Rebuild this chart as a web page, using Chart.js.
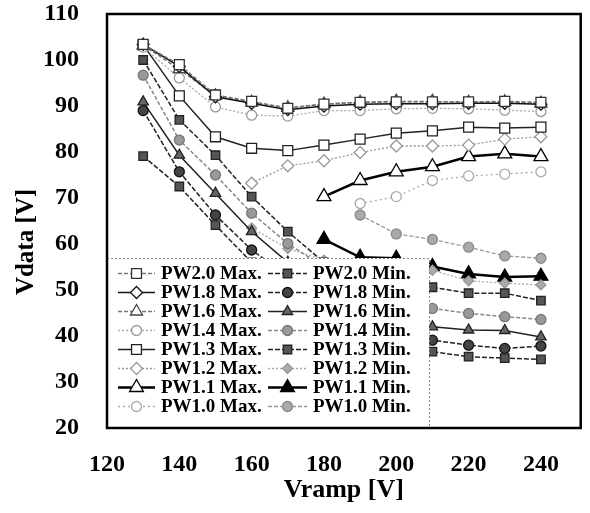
<!DOCTYPE html>
<html>
<head>
<meta charset="utf-8">
<script src="https://cdn.jsdelivr.net/npm/chart.js@4.4.0/dist/chart.umd.min.js"></script>
<style>
  html, body { margin: 0; padding: 0; background: #fff; }
  canvas { display: block; }
</style>
</head>
<body>
<canvas id="chart" width="590" height="513"></canvas>
<script>
// Vramp steps (x) and axis ticks
const vramp = [130, 140, 150, 160, 170, 180, 190, 200, 210, 220, 230, 240];
const xTicks = [120, 140, 160, 180, 200, 220, 240];
const yTicks = [20, 30, 40, 50, 60, 70, 80, 90, 100, 110];

// Vdata max / min per pulse width (null = no point)
const pw20Max = [103.4, 99.0, 92.4, 91.0, 89.5, 90.4, 90.8, 90.9, 90.9, 90.9, 91.0, 90.8];
const pw18Max = [103.4, 98.6, 92.0, 90.6, 89.2, 90.0, 90.4, 90.5, 90.5, 90.6, 90.6, 90.4];
const pw16Max = [103.2, 98.0, 92.2, 90.8, 89.6, 90.4, 90.8, 91.0, 91.0, 90.8, 90.9, 90.6];
const pw14Max = [102.8, 96.1, 89.8, 88.0, 87.8, 89.0, 89.0, 89.4, 89.5, 89.4, 89.1, 88.8];
const pw13Max = [103.3, 92.2, 83.3, 80.8, 80.3, 81.5, 82.8, 84.1, 84.6, 85.4, 85.2, 85.4];
const pw12Max = [null, null, null, 73.2, 77.0, 78.1, 79.9, 81.3, 81.3, 81.5, 82.8, 83.3];
const pw11Max = [null, null, null, null, null, 70.3, 73.8, 75.7, 76.8, 79.0, 79.6, 79.0];
const pw10Max = [null, null, null, null, null, null, 68.8, 70.3, 73.8, 74.8, 75.2, 75.7];

const pw20Min = [79.1, 72.5, 64.1, 56.0, 50.0, 45.0, 41.0, 38.5, 36.6, 35.5, 35.2, 34.9];
const pw18Min = [89.0, 75.7, 66.3, 58.7, 53.0, 48.0, 45.0, 42.0, 39.1, 38.0, 37.3, 37.8];
const pw16Min = [90.9, 79.3, 71.0, 62.7, 56.0, 51.0, 47.5, 44.5, 42.0, 41.3, 41.2, 39.8];
const pw14Min = [96.7, 82.6, 75.0, 66.7, 60.1, 55.0, 51.5, 48.5, 46.0, 44.9, 44.2, 43.6];
const pw13Min = [100.0, 87.0, 79.3, 70.3, 62.7, 56.0, 54.0, 52.0, 50.6, 49.3, 49.3, 47.7];
const pw12Min = [null, null, null, 63.5, 59.0, 56.5, 55.5, 55.2, 54.3, 52.0, 51.5, 51.1];
const pw11Min = [null, null, null, null, null, 61.0, 57.1, 56.9, 55.1, 53.5, 52.8, 53.0];
const pw10Min = [null, null, null, null, null, null, 66.3, 62.2, 61.0, 59.3, 57.4, 56.9];

const serif = "'Liberation Serif', 'Times New Roman', serif";

function pts(values) {
  return vramp.map((x, i) => ({ x: x, y: values[i] })).filter(p => p.y !== null);
}

function series(label, values, line, dash, width, style, fill, edge, radius) {
  return {
    label: label,
    data: pts(values),
    borderColor: line,
    borderDash: dash,
    borderWidth: width,
    pointStyle: style,
    pointBackgroundColor: fill,
    pointBorderColor: edge,
    pointBorderWidth: 1.3,
    pointRadius: radius,
    tension: 0,
    fill: false
  };
}

const datasets = [
  series('PW2.0 Max.', pw20Max, '#777', [4, 2], 1.5, 'rect', '#fff', '#333', 7),
  series('PW1.8 Max.', pw18Max, '#111', [], 1.5, 'rectRot', '#fff', '#111', 6),
  series('PW1.6 Max.', pw16Max, '#777', [4, 2], 1.5, 'triangle', '#fff', '#444', 7),
  series('PW1.4 Max.', pw14Max, '#aaa', [2, 2], 1.3, 'circle', '#fff', '#999', 5),
  series('PW1.3 Max.', pw13Max, '#222', [], 1.5, 'rect', '#fff', '#222', 7),
  series('PW1.2 Max.', pw12Max, '#999', [2, 2], 1.3, 'rectRot', '#fff', '#999', 6),
  series('PW1.1 Max.', pw11Max, '#000', [], 2.5, 'triangle', '#fff', '#000', 8),
  series('PW1.0 Max.', pw10Max, '#aaa', [2, 3], 1.3, 'circle', '#fff', '#aaa', 5),
  series('PW2.0 Min.', pw20Min, '#222', [5, 2], 1.5, 'rect', '#555', '#222', 6),
  series('PW1.8 Min.', pw18Min, '#222', [5, 2], 1.5, 'circle', '#444', '#111', 5),
  series('PW1.6 Min.', pw16Min, '#222', [], 1.5, 'triangle', '#666', '#222', 6),
  series('PW1.4 Min.', pw14Min, '#888', [4, 2], 1.5, 'circle', '#999', '#777', 5),
  series('PW1.3 Min.', pw13Min, '#222', [5, 2], 1.5, 'rect', '#555', '#222', 6),
  series('PW1.2 Min.', pw12Min, '#aaa', [2, 2], 1.3, 'rectRot', '#aaa', '#999', 5),
  series('PW1.1 Min.', pw11Min, '#000', [], 2.5, 'triangle', '#000', '#000', 8),
  series('PW1.0 Min.', pw10Min, '#999', [4, 2], 1.3, 'circle', '#aaa', '#888', 5)
];

// legend box drawn inside the plot, over the lines
const boxLegend = {
  id: 'boxLegend',
  afterDatasetsDraw(chart) {
    const ctx = chart.ctx;
    const area = chart.chartArea;
    const top = 258, right = 429;
    ctx.save();
    ctx.fillStyle = '#fff';
    ctx.fillRect(area.left, top, right - area.left, area.bottom - top);
    ctx.strokeStyle = '#888';
    ctx.lineWidth = 1;
    ctx.setLineDash([2, 2]);
    ctx.beginPath();
    ctx.moveTo(area.left, top + 0.5);
    ctx.lineTo(right + 0.5, top + 0.5);
    ctx.lineTo(right + 0.5, area.bottom);
    ctx.stroke();

    const cols = [{ x0: 118, x1: 155, text: 161 }, { x0: 268, x1: 307, text: 313 }];
    ctx.font = 'bold 19px ' + serif;
    ctx.textBaseline = 'middle';
    ctx.textAlign = 'left';
    chart.data.datasets.forEach((ds, i) => {
      const c = cols[i < 8 ? 0 : 1];
      const y = 273.5 + (i % 8) * 19;
      const mid = (c.x0 + c.x1) / 2;
      ctx.setLineDash(ds.borderDash);
      ctx.strokeStyle = ds.borderColor;
      ctx.lineWidth = ds.borderWidth;
      ctx.beginPath();
      ctx.moveTo(c.x0, y);
      ctx.lineTo(c.x1, y);
      ctx.stroke();
      ctx.setLineDash([]);
      ctx.fillStyle = ds.pointBackgroundColor;
      ctx.strokeStyle = ds.pointBorderColor;
      ctx.lineWidth = ds.pointBorderWidth;
      Chart.helpers.drawPoint(ctx, {
        pointStyle: ds.pointStyle, radius: ds.pointRadius, rotation: 0, borderWidth: ds.pointBorderWidth
      }, mid, y);
      ctx.fillStyle = '#000';
      ctx.fillText(ds.label, c.text, y + 1);
    });
    ctx.restore();
  }
};

// plot frame and the y title (sits a little below the plot centre in the original)
const frame = {
  id: 'frame',
  afterDraw(chart) {
    const a = chart.chartArea;
    const ctx = chart.ctx;
    ctx.save();
    ctx.strokeStyle = '#000';
    ctx.lineWidth = 2.5;
    ctx.strokeRect(a.left, a.top, a.right - a.left, a.bottom - a.top);
    ctx.translate(27, 242);
    ctx.rotate(-Math.PI / 2);
    ctx.font = 'bold 25px ' + serif;
    ctx.fillStyle = '#000';
    ctx.textAlign = 'center';
    ctx.textBaseline = 'middle';
    ctx.fillText('Vdata [V]', 0, 0);
    ctx.restore();
  }
};

new Chart(document.getElementById('chart'), {
  type: 'line',
  data: { datasets: datasets },
  plugins: [boxLegend, frame],
  options: {
    responsive: false,
    animation: false,
    layout: { padding: { top: 14, right: 3, left: 0, bottom: 0 } },
    plugins: { legend: { display: false }, tooltip: { enabled: false } },
    scales: {
      x: {
        type: 'linear',
        min: 120,
        max: 251,
        afterBuildTicks: s => { s.ticks = xTicks.map(v => ({ value: v })); },
        afterFit: s => { s.height = 85; s.paddingLeft = 0; s.paddingRight = 0; },
        grid: { display: false, drawTicks: false },
        border: { display: false },
        ticks: { color: '#000', padding: 22, maxRotation: 0, font: { family: serif, size: 24, weight: 'bold' } },
        title: { display: true, text: 'Vramp [V]', color: '#000', padding: { top: 0, bottom: 7 },
          font: { family: serif, size: 26, weight: 'bold' } }
      },
      y: {
        min: 20,
        max: 110,
        afterBuildTicks: s => { s.ticks = yTicks.map(v => ({ value: v })); },
        afterFit: s => { s.width = 107; s.paddingTop = 0; s.paddingBottom = 0; },
        grid: { display: false, drawTicks: false },
        border: { display: false },
        ticks: { color: '#000', padding: 28, font: { family: serif, size: 24, weight: 'bold' } }
      }
    }
  }
});
</script>
</body>
</html>
